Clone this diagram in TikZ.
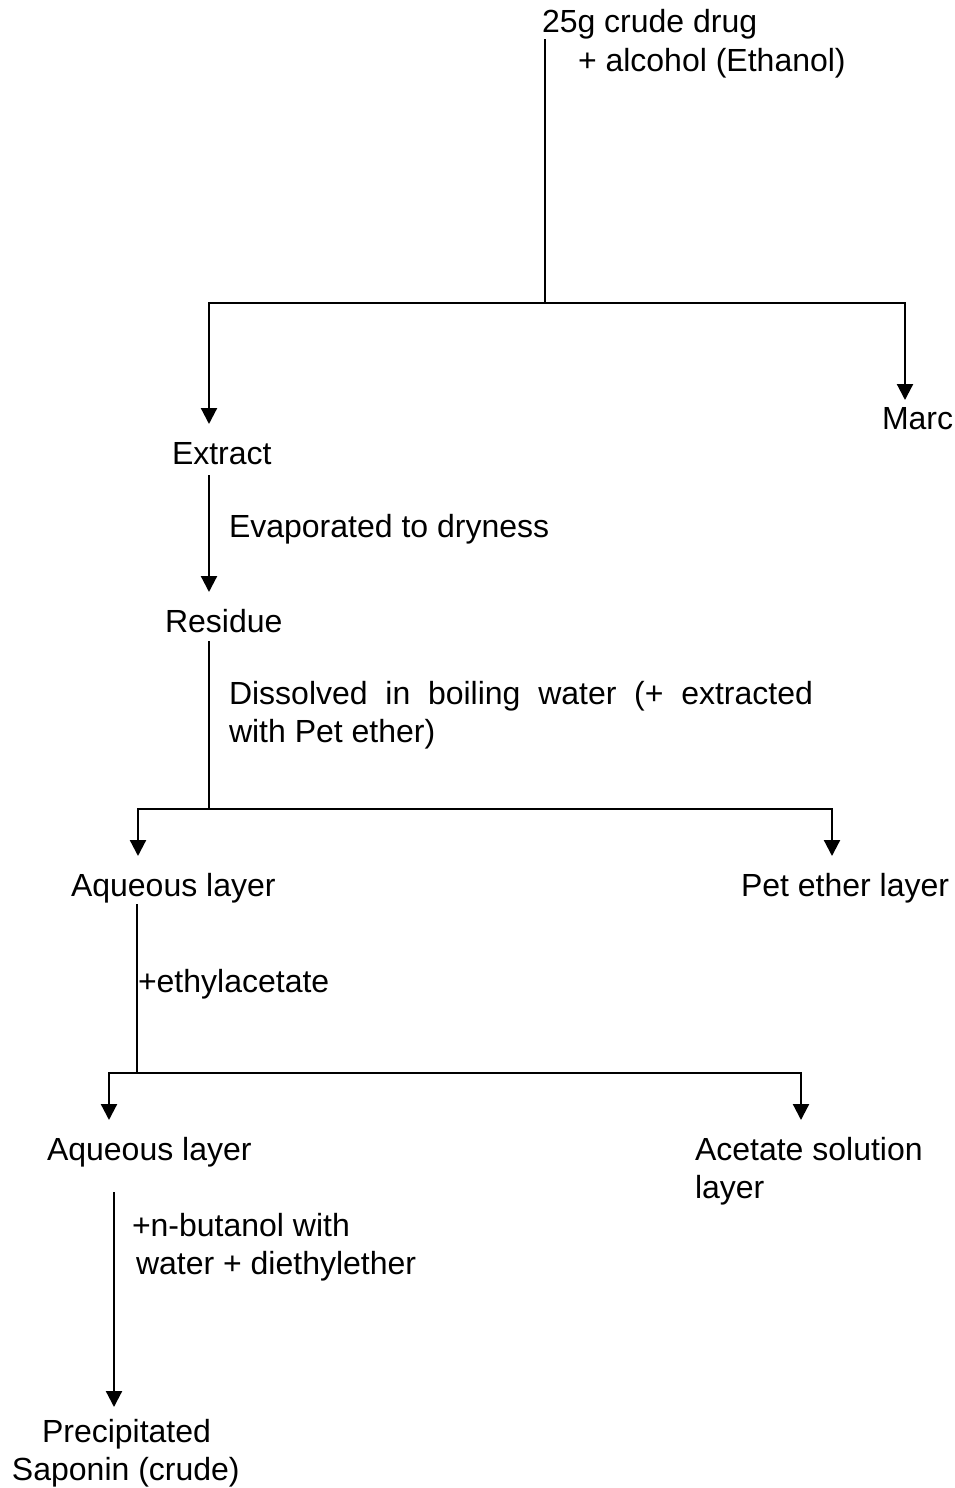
\documentclass[tikz,border=0pt]{standalone}
\usepackage{fontspec}
\setmainfont{Liberation Sans}
\usetikzlibrary{arrows.meta}
\tikzset{
  lbl/.style={inner sep=0pt, outer sep=0pt, anchor=base west, font=\fontsize{32}{38}\selectfont},
  conn/.style={line width=2.2pt, line cap=rect},
  arr/.style={line width=2.2pt, -{Triangle[length=16pt,width=16pt]}},
}
\begin{document}
\begin{tikzpicture}[x=1pt,y=-1pt]
\useasboundingbox (0,0) rectangle (954,1488);
% texts
\node[lbl] (drug) at (542,33) {25g crude drug};
\node[lbl] (alc) at (578,71) {+ alcohol (Ethanol)};
\node[lbl] (marc) at (882,429) {Marc};
\node[lbl] (extract) at (172,464) {Extract};
\node[lbl] (evap) at (229,537) {Evaporated to dryness};
\node[lbl] (residue) at (165,632) {Residue};
\node[lbl] (diss1) at (229,704) {\makebox[584pt][s]{Dissolved in boiling water (+ extracted}};
\node[lbl] (diss2) at (229,742) {with Pet ether)};
\node[lbl] (aq1) at (71,896) {Aqueous layer};
\node[lbl] (pet) at (741,896) {Pet ether layer};
\node[lbl] (ethyl) at (138,992) {+ethylacetate};
\node[lbl] (aq2) at (47,1160) {Aqueous layer};
\node[lbl] (acet1) at (695,1160) {Acetate solution};
\node[lbl] (acet2) at (695,1198) {layer};
\node[lbl] (but1) at (132,1236) {+n-butanol with};
\node[lbl] (but2) at (136,1274) {water + diethylether};
\node[lbl] (prec1) at (42,1442) {Precipitated};
\node[lbl] (prec2) at (12,1480) {Saponin (crude)};
% junction coordinates
\coordinate (s1) at (545,40);
\coordinate (j1) at (545,303);
\coordinate (tExtract) at (209,424);
\coordinate (tMarc) at (905,400);
\coordinate (s2) at (209,475);
\coordinate (tResidue) at (209,592);
\coordinate (s3) at (209,642);
\coordinate (j3) at (209,809);
\coordinate (tAq1) at (138,856);
\coordinate (tPet) at (832,856);
\coordinate (s4) at (137,905);
\coordinate (j4) at (137,1073);
\coordinate (tAq2) at (109,1120);
\coordinate (tAcet) at (801,1120);
\coordinate (s5) at (114,1192);
\coordinate (tPrec) at (114,1407);
% connectors
\draw[conn] (s1) -- (j1);
\draw[arr] (j1) -| (tExtract);
\draw[arr] (j1) -| (tMarc);
\draw[arr] (s2) -- (tResidue);
\draw[conn] (s3) -- (j3);
\draw[arr] (j3) -| (tAq1);
\draw[arr] (j3) -| (tPet);
\draw[conn] (s4) -- (j4);
\draw[arr] (j4) -| (tAq2);
\draw[arr] (j4) -| (tAcet);
\draw[arr] (s5) -- (tPrec);
\end{tikzpicture}
\end{document}
